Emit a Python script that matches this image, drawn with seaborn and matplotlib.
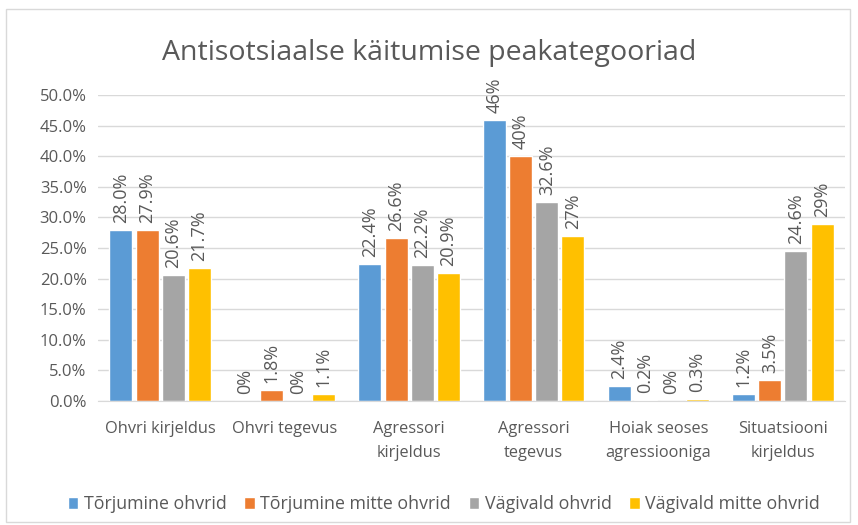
import pandas as pd
import matplotlib.pyplot as plt
import seaborn as sns
from matplotlib.patches import Rectangle

# data
categories = ["Ohvri kirjeldus", "Ohvri tegevus", "Agressori\nkirjeldus",
              "Agressori\ntegevus", "Hoiak seoses\nagressiooniga", "Situatsiooni\nkirjeldus"]
series = ["Tõrjumine ohvrid", "Tõrjumine mitte ohvrid", "Vägivald ohvrid", "Vägivald mitte ohvrid"]
torj_ohvrid = [28.0, 0.0, 22.4, 46.0, 2.4, 1.2]
torj_mitte = [27.9, 1.8, 26.6, 40.0, 0.2, 3.5]
vag_ohvrid = [20.6, 0.0, 22.2, 32.6, 0.0, 24.6]
vag_mitte = [21.7, 1.1, 20.9, 27.0, 0.3, 29.0]
bar_labels = [
    ["28.0%", "0%", "22.4%", "46%", "2.4%", "1.2%"],
    ["27.9%", "1.8%", "26.6%", "40%", "0.2%", "3.5%"],
    ["20.6%", "0%", "22.2%", "32.6%", "0%", "24.6%"],
    ["21.7%", "1.1%", "20.9%", "27%", "0.3%", "29%"],
]
colors = ["#5B9BD5", "#ED7D31", "#A5A5A5", "#FFC000"]

rows = []
for name, vals in zip(series, [torj_ohvrid, torj_mitte, vag_ohvrid, vag_mitte]):
    for c, v in zip(categories, vals):
        rows.append({"kategooria": c, "grupp": name, "osakaal": v})
df = pd.DataFrame(rows)

sns.set_style("white")
plt.rcParams["font.family"] = ["Open Sans", "DejaVu Sans"]

fig = plt.figure(figsize=(8.58, 5.25), dpi=100)
ax = fig.add_axes([0.114, 0.236, 0.871, 0.583])

sns.barplot(data=df, x="kategooria", y="osakaal", hue="grupp", palette=colors,
            width=0.84, gap=0.12, ax=ax, legend=True, saturation=1)

for cont, labs in zip(ax.containers, bar_labels):
    ax.bar_label(cont, labels=labs, rotation=90, padding=5, fontsize=13, color="#595959")

ax.set_ylim(0, 50)
ax.set_yticks(range(0, 51, 5))
ax.set_yticklabels([f"{t:.1f}%" for t in range(0, 51, 5)], fontsize=12, color="#595959")
ax.set_xlabel("")
ax.set_ylabel("")
ax.tick_params(axis="x", labelsize=11.8, colors="#595959", length=0, pad=14)
for lab in ax.get_xticklabels():
    lab.set_linespacing(1.7)
ax.tick_params(axis="y", length=0, pad=8)
ax.grid(axis="y", color="#D9D9D9", linewidth=1)
ax.set_axisbelow(True)
for s in ["top", "right", "left"]:
    ax.spines[s].set_visible(False)
ax.spines["bottom"].set_color("#D9D9D9")

ax.legend(loc="upper center", bbox_to_anchor=(0.463, -0.255), ncol=4, frameon=False,
          fontsize=12.8, handlelength=0.6, handleheight=0.6, handletextpad=0.3,
          columnspacing=1.0, labelcolor="#595959")

fig.text(0.5, 0.885, "Antisotsiaalse käitumise peakategooriad", ha="center",
         fontsize=20.5, color="#595959")

fig.patches.append(Rectangle((6 / 858, 3 / 525), 844 / 858, 513 / 525, transform=fig.transFigure,
                             fill=False, edgecolor="#D9D9D9", linewidth=1))

fig.savefig("out.png", dpi=100)
